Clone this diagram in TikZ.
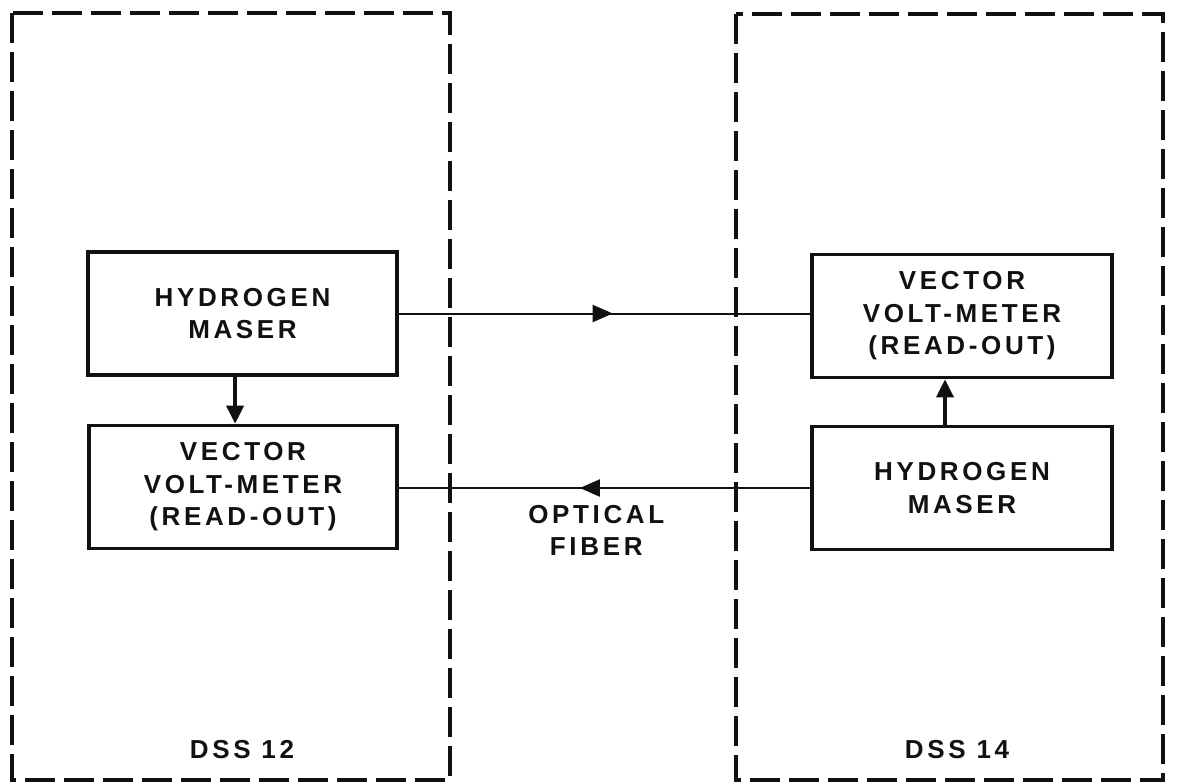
\documentclass[tikz,border=0pt]{standalone}
\usepackage{fontspec}
\setmainfont{Liberation Sans}
\usetikzlibrary{arrows.meta,decorations.markings}
\definecolor{ink}{HTML}{111111}
\tikzset{
  every node/.style={text=ink},
  label/.style={font=\fontsize{13}{16.3}\selectfont\bfseries
    \addfontfeature{LetterSpace=14}, align=center, inner sep=0pt},
  block/.style={label, draw=ink, line width=1.8pt, minimum height=61.5pt},
  station/.style={draw=ink, line width=2pt, dash pattern=on 15pt off 4.5pt},
  feed/.style={-{Triangle[length=9pt,width=8.5pt]}, draw=ink, line width=1.8pt},
  fiber/.style={draw=ink, line width=1pt, postaction={decorate}},
  tipat/.style={decoration={markings,
    mark=at position #1 with {\arrow{Triangle[length=10pt,width=8.5pt]}}}}
}
\begin{document}
\begin{tikzpicture}[x=0.5pt,y=-0.5pt]
\useasboundingbox (0,0) rectangle (1177,782);

% The two stations, each a dashed enclosure with its name at the foot.
\draw[station] (12,13) rectangle (450,780);
\draw[station] (736,14) rectangle (1163,780);
\node[label] (dss12) at (242,750) {DSS 12};
\node[label] (dss14) at (957,750) {DSS 14};

% DSS 12: maser feeding its own read-out.
\node[block, minimum width=154.5pt] (maserA) at (242.5,313.5)
  {HYDROGEN\\MASER};
\node[block, minimum width=154pt] (vvmA) at (243,487)
  {VECTOR\\VOLT-METER\\(READ-OUT)};

% DSS 14: the same pair, stacked the other way round.
\node[block, minimum width=150pt] (vvmB) at (962,316)
  {VECTOR\\VOLT-METER\\(READ-OUT)};
\node[block, minimum width=150pt] (maserB) at (962,488)
  {HYDROGEN\\MASER};

\draw[feed] ([xshift=-3.7pt]maserA.south) -- ([xshift=-3.7pt]maserA.south |- vvmA.north);
\draw[feed] ([xshift=-8.5pt]maserB.north) -- ([xshift=-8.5pt]maserB.north |- vvmB.south);

% Cross-links between the stations; the arrow sits mid-span.
\draw[fiber, tipat=0.52] (maserA.east) -- (maserA.east -| vvmB.west);
\draw[fiber, tipat=0.56] (maserB.west) -- (maserB.west -| vvmA.east)
  node[label, pos=0.52, below=8pt] (fibertxt) {OPTICAL\\FIBER};

\end{tikzpicture}
\end{document}
